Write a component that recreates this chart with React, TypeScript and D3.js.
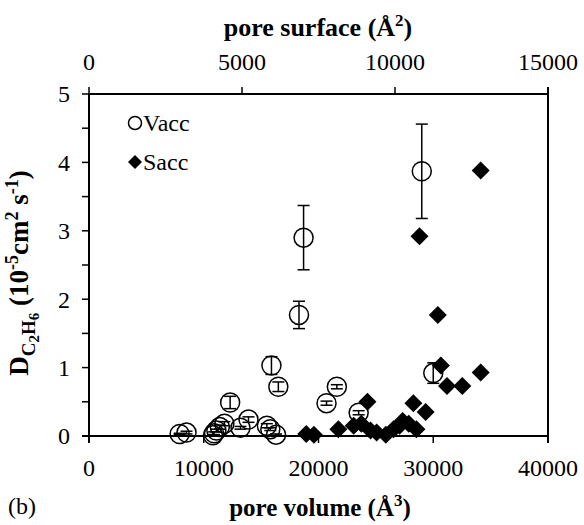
import React, { useRef, useEffect } from "react";
import { select, scaleLinear, range, symbol, symbolSquare } from "d3";

// Vacc series: pore volume (A^3), D, error
const vaccVolume = [7900, 8500, 10800, 10900, 11100, 11400, 11800, 12300, 13200, 13900, 15500, 15800, 16300, 15900, 16500, 18300, 18700, 20700, 21600, 23500, 29000, 30000];
const vaccD = [0.03, 0.05, 0.01, 0.04, 0.08, 0.13, 0.18, 0.49, 0.12, 0.24, 0.15, 0.1, 0.02, 1.03, 0.72, 1.77, 2.9, 0.48, 0.72, 0.34, 3.87, 0.92];
const vaccErr = [0.01, 0.02, 0.01, 0.02, 0.02, 0.03, 0.03, 0.09, 0.02, 0.04, 0.03, 0.02, 0.01, 0.13, 0.07, 0.2, 0.47, 0.03, 0.03, 0.03, 0.69, 0.15];

// Sacc series: pore surface (A^2), D
const saccSurface = [7100, 7350, 8150, 8650, 8900, 9100, 9200, 9400, 9700, 9950, 10150, 10250, 10450, 10600, 10700, 10800, 11000, 11400, 11500, 11700, 12200, 12800, 12800];
const saccD = [0.03, 0.02, 0.1, 0.15, 0.18, 0.5, 0.08, 0.05, 0.02, 0.1, 0.15, 0.22, 0.18, 0.48, 0.1, 2.92, 0.35, 1.77, 1.03, 0.73, 0.73, 0.93, 3.88];

const volumeTicks = [0, 10000, 20000, 30000, 40000];
const surfaceTicks = [0, 5000, 10000, 15000];
const dTicks = [0, 1, 2, 3, 4, 5];

const FONT = "'Liberation Serif', 'Times New Roman', serif";

const App = () => {
  const svgRef = useRef<SVGSVGElement>(null);

  useEffect(() => {
    document.body.style.margin = "0";
    const svg = select(svgRef.current);
    svg.selectAll("*").remove();

    const margin = { top: 94, right: 36, bottom: 89, left: 89 };
    const width = 584;
    const height = 525;

    const xVol = scaleLinear().domain([0, 40000]).range([margin.left, width - margin.right]);
    const xSurf = scaleLinear().domain([0, 15000]).range([margin.left, width - margin.right]);
    const y = scaleLinear().domain([0, 5]).range([height - margin.bottom, margin.top]);

    const x0 = margin.left;
    const x1 = width - margin.right;
    const y0 = height - margin.bottom;
    const y1 = margin.top;
    const tick = 7;

    const g = svg.append("g").style("font-family", FONT).attr("fill", "#000");

    // frame lines
    g.append("line").attr("x1", x0).attr("x2", x0).attr("y1", y1).attr("y2", y0 + tick).attr("stroke", "#000").attr("stroke-width", 2);
    g.append("line").attr("x1", x0 - tick).attr("x2", x1).attr("y1", y0).attr("y2", y0).attr("stroke", "#000").attr("stroke-width", 2);
    g.append("line").attr("x1", x0).attr("x2", x1).attr("y1", y1).attr("y2", y1).attr("stroke", "#000").attr("stroke-width", 2);
    g.append("line").attr("x1", x1).attr("x2", x1).attr("y1", y1 - tick).attr("y2", y0 + tick).attr("stroke", "#000").attr("stroke-width", 2);

    // left ticks every 0.5
    g.selectAll(".ytick")
      .data(range(0, 5.01, 0.5))
      .join("line")
      .attr("class", "ytick")
      .attr("x1", x0 - tick)
      .attr("x2", x0)
      .attr("y1", (d) => y(d))
      .attr("y2", (d) => y(d))
      .attr("stroke", "#000")
      .attr("stroke-width", 1.5);

    g.selectAll(".ylab")
      .data(dTicks)
      .join("text")
      .attr("class", "ylab")
      .attr("x", x0 - 19)
      .attr("y", (d) => y(d))
      .attr("dy", "0.35em")
      .attr("text-anchor", "end")
      .attr("font-size", 24)
      .text((d) => d);

    // bottom ticks
    g.selectAll(".xtick")
      .data(volumeTicks)
      .join("line")
      .attr("class", "xtick")
      .attr("x1", (d) => xVol(d))
      .attr("x2", (d) => xVol(d))
      .attr("y1", y0)
      .attr("y2", y0 + tick)
      .attr("stroke", "#000")
      .attr("stroke-width", 1.5);

    g.selectAll(".xlab")
      .data(volumeTicks)
      .join("text")
      .attr("class", "xlab")
      .attr("x", (d) => xVol(d))
      .attr("y", 476)
      .attr("text-anchor", "middle")
      .attr("font-size", 24)
      .text((d) => d);

    // top ticks
    g.selectAll(".ttick")
      .data(surfaceTicks)
      .join("line")
      .attr("class", "ttick")
      .attr("x1", (d) => xSurf(d))
      .attr("x2", (d) => xSurf(d))
      .attr("y1", y1 - tick)
      .attr("y2", y1)
      .attr("stroke", "#000")
      .attr("stroke-width", 1.5);

    g.selectAll(".tlab")
      .data(surfaceTicks)
      .join("text")
      .attr("class", "tlab")
      .attr("x", (d) => xSurf(d))
      .attr("y", 70)
      .attr("text-anchor", "middle")
      .attr("font-size", 24)
      .text((d) => d);

    // titles
    const top = g.append("text").attr("x", 318).attr("y", 36).attr("text-anchor", "middle").attr("font-size", 26).attr("font-weight", "bold");
    top.append("tspan").text("pore surface (Å");
    top.append("tspan").attr("dy", -10).attr("font-size", 17).text("2");
    top.append("tspan").attr("dy", 10).text(")");

    const bot = g.append("text").attr("x", 320).attr("y", 516).attr("text-anchor", "middle").attr("font-size", 25).attr("font-weight", "bold");
    bot.append("tspan").text("pore volume (Å");
    bot.append("tspan").attr("dy", -10).attr("font-size", 17).text("3");
    bot.append("tspan").attr("dy", 10).text(")");

    g.append("text").attr("x", 8).attr("y", 514).attr("font-size", 24).text("(b)");

    const yl = g
      .append("text")
      .attr("transform", `translate(28,${(y0 + y1) / 2 + 8}) rotate(-90)`)
      .attr("text-anchor", "middle")
      .attr("font-size", 27)
      .attr("font-weight", "bold");
    yl.append("tspan").text("D");
    yl.append("tspan").attr("dy", 7).attr("font-size", 19).text("C");
    yl.append("tspan").attr("dy", 4).attr("font-size", 15).text("2");
    yl.append("tspan").attr("dy", -4).attr("font-size", 19).text("H");
    yl.append("tspan").attr("dy", 4).attr("font-size", 15).text("6");
    yl.append("tspan").attr("dy", -11).text(" (10");
    yl.append("tspan").attr("dy", -10).attr("font-size", 18).text("-5");
    yl.append("tspan").attr("dy", 10).text("cm");
    yl.append("tspan").attr("dy", -10).attr("font-size", 18).text("2");
    yl.append("tspan").attr("dy", 10).text(" s");
    yl.append("tspan").attr("dy", -10).attr("font-size", 18).text("-1");
    yl.append("tspan").attr("dy", 10).text(")");

    // Vacc circles + error bars
    const vacc = vaccVolume.map((v, i) => ({ x: v, d: vaccD[i], e: vaccErr[i] }));
    const cap = 6;
    const eg = g.append("g").attr("stroke", "#000").attr("stroke-width", 1.5);
    vacc.forEach((p) => {
      const cx = xVol(p.x);
      eg.append("line").attr("x1", cx).attr("x2", cx).attr("y1", y(p.d - p.e)).attr("y2", y(p.d + p.e));
      eg.append("line").attr("x1", cx - cap).attr("x2", cx + cap).attr("y1", y(p.d - p.e)).attr("y2", y(p.d - p.e));
      eg.append("line").attr("x1", cx - cap).attr("x2", cx + cap).attr("y1", y(p.d + p.e)).attr("y2", y(p.d + p.e));
    });
    g.selectAll(".vacc")
      .data(vacc)
      .join("circle")
      .attr("class", "vacc")
      .attr("cx", (p) => xVol(p.x))
      .attr("cy", (p) => y(p.d))
      .attr("r", 9.5)
      .attr("fill", "none")
      .attr("stroke", "#000")
      .attr("stroke-width", 1.5);

    // Sacc diamonds
    const sacc = saccSurface.map((s, i) => ({ x: s, d: saccD[i] }));
    const diamond = symbol().type(symbolSquare).size(162);
    g.selectAll(".sacc")
      .data(sacc)
      .join("path")
      .attr("class", "sacc")
      .attr("d", diamond())
      .attr("transform", (p) => `translate(${xSurf(p.x)},${y(p.d)}) rotate(45)`)
      .attr("fill", "#000");

    // legend
    g.append("circle").attr("cx", 135).attr("cy", 123).attr("r", 6.5).attr("fill", "none").attr("stroke", "#000").attr("stroke-width", 1.5);
    g.append("text").attr("x", 143).attr("y", 131).attr("font-size", 24).text("Vacc");
    g.append("path").attr("d", symbol().type(symbolSquare).size(98)()).attr("transform", "translate(135,162) rotate(45)").attr("fill", "#000");
    g.append("text").attr("x", 143).attr("y", 170).attr("font-size", 24).text("Sacc");
  }, []);

  return <svg ref={svgRef} width={584} height={525} style={{ display: "block" }}></svg>;
};

export default App;
